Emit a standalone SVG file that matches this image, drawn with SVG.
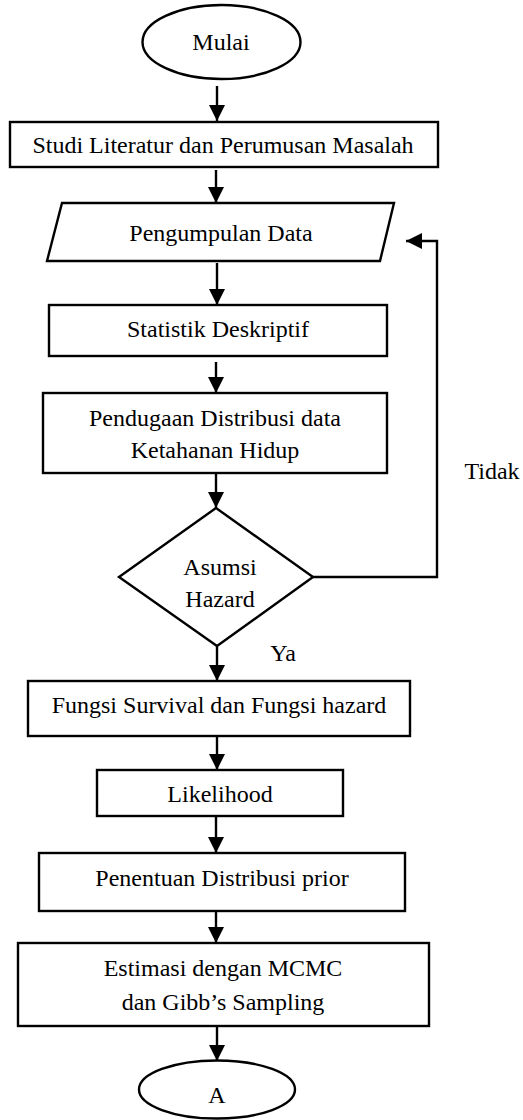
<svg xmlns="http://www.w3.org/2000/svg" width="523" height="1120" viewBox="0 0 523 1120">
<style>
.s{fill:#fff;stroke:#000;stroke-width:2.4}
.t{font-family:'Liberation Serif','Times New Roman','DejaVu Serif',serif;font-size:24px;fill:#000;text-anchor:middle}
.c{fill:none;stroke:#000;stroke-width:2.4}
</style>
<defs>
<marker id="ah" viewBox="0 0 16 16" refX="16" refY="8" markerWidth="16" markerHeight="16" markerUnits="userSpaceOnUse" orient="auto">
<path d="M0,0 L16,8 L0,16 z" fill="#000"/>
</marker>
</defs>
<rect width="523" height="1120" fill="#fff"/>
<g id="connectors">
<line class="c" x1="217" y1="86" x2="217" y2="121" marker-end="url(#ah)"/>
<line class="c" x1="216" y1="170" x2="216" y2="203" marker-end="url(#ah)"/>
<line class="c" x1="217" y1="263" x2="217" y2="305" marker-end="url(#ah)"/>
<line class="c" x1="216" y1="362" x2="216" y2="393" marker-end="url(#ah)"/>
<line class="c" x1="216" y1="473" x2="216" y2="508" marker-end="url(#ah)"/>
<line class="c" x1="217" y1="646" x2="217" y2="681" marker-end="url(#ah)"/>
<line class="c" x1="217" y1="736" x2="217" y2="770" marker-end="url(#ah)"/>
<line class="c" x1="216" y1="816" x2="216" y2="853" marker-end="url(#ah)"/>
<line class="c" x1="216" y1="911" x2="216" y2="943" marker-end="url(#ah)"/>
<line class="c" x1="217" y1="1026" x2="217" y2="1061" marker-end="url(#ah)"/>
<polyline class="c" points="313,577 437,577 437,241 406,241" marker-end="url(#ah)"/>
<text class="t" x="492" y="479" font-family="Liberation Serif, serif">Tidak</text>
<text class="t" x="283" y="661" font-family="Liberation Serif, serif">Ya</text>
</g>
<g id="mulai">
<ellipse class="s" cx="221.5" cy="42" rx="79" ry="37"/>
<text class="t" x="221" y="50">Mulai</text>
</g>
<g id="studi">
<rect class="s" x="10" y="122" width="428" height="45"/>
<text class="t" x="223" y="153">Studi Literatur dan Perumusan Masalah</text>
</g>
<g id="pengumpulan">
<polygon class="s" points="62,203 394,203 380,261 47,261"/>
<text class="t" x="221" y="241">Pengumpulan Data</text>
</g>
<g id="statistik">
<rect class="s" x="49" y="305" width="338" height="51"/>
<text class="t" x="218" y="337">Statistik Deskriptif</text>
</g>
<g id="pendugaan">
<rect class="s" x="43" y="393" width="344" height="80"/>
<text class="t" x="215" y="426">Pendugaan Distribusi data</text>
<text class="t" x="215" y="458">Ketahanan Hidup</text>
</g>
<g id="asumsi">
<polygon class="s" points="216,508 313,577 217,646 119,577"/>
<text class="t" x="220" y="575">Asumsi</text>
<text class="t" x="220" y="607">Hazard</text>
</g>
<g id="fungsi">
<rect class="s" x="28" y="681" width="382" height="55"/>
<text class="t" x="219" y="713">Fungsi Survival dan Fungsi hazard</text>
</g>
<g id="likelihood">
<rect class="s" x="97" y="770" width="246" height="46"/>
<text class="t" x="220" y="802">Likelihood</text>
</g>
<g id="penentuan">
<rect class="s" x="39" y="853" width="366" height="58"/>
<text class="t" x="222" y="886">Penentuan Distribusi prior</text>
</g>
<g id="estimasi">
<rect class="s" x="18" y="943" width="411" height="83"/>
<text class="t" x="223" y="976">Estimasi dengan MCMC</text>
<text class="t" x="223" y="1010">dan Gibb’s Sampling</text>
</g>
<g id="a">
<ellipse class="s" cx="217" cy="1089.5" rx="78" ry="29"/>
<text class="t" x="217" y="1103">A</text>
</g>
</svg>
